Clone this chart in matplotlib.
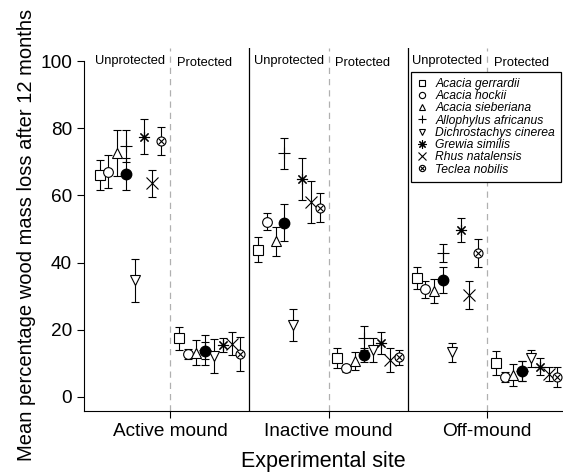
import numpy as np
import matplotlib.pyplot as plt
from matplotlib.lines import Line2D
from matplotlib.legend_handler import HandlerTuple

plt.rcParams['font.family'] = ['Liberation Sans', 'DejaVu Sans']

# ---- data
species = ["Acacia gerrardii", "Acacia hockii", "Acacia sieberiana", "Allophylus africanus",
           "Dichrostachys cinerea", "Grewia similis", "Rhus natalensis", "Teclea nobilis"]
sites = ["Active mound", "Inactive mound", "Off-mound"]
treatments = ["Unprotected", "Protected"]

# rows = sites, columns = species
mean_unprot = [[66.1, 67.1, 72.7, 74.7, 34.7, 77.5, 63.6, 76.3],
               [43.8, 52.2, 46.3, 72.5, 21.5, 64.8, 58.1, 56.4],
               [35.3, 32.0, 31.6, 42.9, 13.3, 49.7, 30.4, 42.9]]
se_unprot = [[4.5, 5.0, 6.9, 4.8, 6.3, 5.2, 4.0, 4.2],
             [3.7, 2.6, 4.4, 4.6, 4.8, 6.2, 6.2, 4.2],
             [3.3, 2.6, 3.6, 2.6, 2.8, 3.5, 4.2, 4.2]]
mean_prot = [[17.4, 12.8, 13.2, 14.0, 12.1, 15.5, 15.8, 12.8],
             [11.7, 8.5, 10.7, 17.5, 14.0, 16.0, 11.0, 11.8],
             [10.0, 6.0, 6.5, 7.8, 11.5, 9.0, 6.8, 6.0]]
se_prot = [[3.3, 1.5, 3.8, 4.5, 5.0, 2.0, 3.4, 5.0],
           [3.0, 1.0, 2.7, 3.6, 3.6, 3.3, 3.7, 2.2],
           [3.6, 1.5, 3.4, 3.0, 2.6, 2.6, 2.2, 3.0]]
# overall mean (filled circle)
all_unprot = [66.4, 51.9, 34.8]
all_unprot_se = [4.85, 5.5, 3.8]
all_prot = [13.7, 12.5, 7.8]
all_prot_se = [2.5, 2.0, 3.0]

markers = ['s', 'o', '^', '+', 'v', (8, 2, 0), 'x', 'teclea']

fig = plt.figure(figsize=(5.63, 4.72), dpi=100)
ax = fig.add_axes([84/563, 1-411/472, 1-84/563, (411-48)/472])

step = 0.0555
centers = np.arange(1, 4)

def draw_point(x, y, e, m):
    ax.errorbar(x, y, yerr=e, fmt='none', ecolor='black', elinewidth=0.8,
                capsize=3, capthick=0.8, zorder=2)
    kw = dict(color='black', markerfacecolor='white', markeredgewidth=0.8, zorder=3)
    if m == 'teclea':
        ax.plot(x, y, 'o', markersize=6.5, **kw)
        ax.plot(x, y, 'x', markersize=4.5, color='black', markeredgewidth=0.8, zorder=4)
    elif m in ('+', 'x', (8, 2, 0)):
        ax.plot(x, y, marker=m, linestyle='none', markersize=8, color='black',
                markeredgewidth=0.8, zorder=3)
    else:
        ax.plot(x, y, marker=m, linestyle='none', markersize=7, **kw)

for s in range(3):
    for t, (means, ses, allm, alls) in enumerate([(mean_unprot, se_unprot, all_unprot, all_unprot_se),
                                                   (mean_prot, se_prot, all_prot, all_prot_se)]):
        sub = centers[s] + (-0.25 if t == 0 else 0.25)
        for i in range(len(species)):
            draw_point(sub + (i - 3.5)*step, means[s][i], ses[s][i], markers[i])
        xm = sub + (3 - 3.5)*step
        ax.errorbar(xm, allm[s], yerr=alls[s], fmt='none', ecolor='black', elinewidth=0.8,
                    capsize=3, capthick=0.8, zorder=2)
        ax.plot(xm, allm[s], 'o', color='black', markersize=7.5, zorder=5)

# separators
for c in centers:
    ax.axvline(c, color='#b0b0b0', linestyle=(0, (5, 4)), linewidth=0.9, zorder=1)
for b in [1.5, 2.5]:
    ax.axvline(b, color='black', linewidth=0.9, zorder=1)

for c in centers:
    ax.text(c - 0.25, 100, treatments[0], ha='center', va='center', fontsize=9.3)
    ax.text(c + 0.215, 99.5, treatments[1], ha='center', va='center', fontsize=9.3)

ax.set_xlim(0.4574, 3.4795)
ax.set_ylim(-4.2, 103.9)
ax.set_xticks(centers)
ax.set_xticklabels(sites)
ax.set_yticks(range(0, 101, 20))
ax.tick_params(axis='both', labelsize=13.7, length=5, width=0.8, pad=3.5)
ax.spines['top'].set_visible(False)
ax.spines['right'].set_visible(False)
ax.spines['left'].set_bounds(-4.2, 100)
ax.spines['left'].set_linewidth(0.8)
ax.spines['bottom'].set_linewidth(0.8)

ax.set_xlabel("Experimental site", fontsize=15.5, va='center')
ax.xaxis.set_label_coords(0.5, -0.14)
ax.set_ylabel("Mean percentage wood mass loss after 12 months", fontsize=14.5)
ax.yaxis.set_label_coords(-0.10, 0.485)

# legend
handles = []
for m in markers:
    if m == 'teclea':
        h = (Line2D([], [], marker='o', linestyle='none', color='black', markerfacecolor='white',
                    markersize=4.5, markeredgewidth=0.8),
             Line2D([], [], marker='x', linestyle='none', color='black', markersize=3,
                    markeredgewidth=0.8))
    else:
        h = Line2D([], [], marker=m, linestyle='none', color='black', markerfacecolor='white',
                   markersize=4.5 if m not in ('+', 'x', (8, 2, 0)) else 6, markeredgewidth=0.8)
    handles.append(h)
leg = ax.legend(handles, species, loc='upper left', bbox_to_anchor=(0.682, 0.934),
                borderaxespad=0, prop={'style': 'italic', 'size': 8.7}, labelspacing=0.02,
                handlelength=0.8, handletextpad=0.75, borderpad=0.5, fancybox=False,
                framealpha=1, edgecolor='black',
                handler_map={tuple: HandlerTuple(ndivide=1, pad=0)})
leg.get_frame().set_linewidth(0.9)

fig.savefig("out.png", dpi=100)
